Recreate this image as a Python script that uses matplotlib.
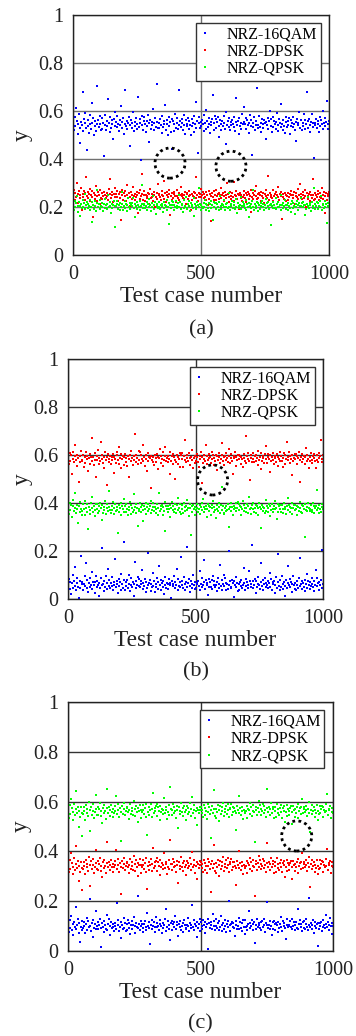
import numpy as np
import matplotlib
matplotlib.use("Agg")
import matplotlib.pyplot as plt

plt.rcParams['font.family'] = ['Liberation Serif', 'DejaVu Serif']

# values, in thousandths of y (test cases spread over 1..1000)
qam_a = """
548 521 573 536 612 559 503 544 588 530 467 555 541 679 517 566 549 592 528 437
561 538 509 583 547 526 634 552 571 498 539 557 515 546 703 563 532 578 544 519
527 569 551 412 540 585 522 558 536 649 549 511 574 530 562 545 483 567 538 596
555 533 580 546 517 561 542 620 528 553 571 506 544 688 537 559 524 550 577 453
540 563 529 549 597 515 556 538 572 525 546 660 533 566 551 395 542 581 520 557
574 545 512 560 536 584 549 471 563 527 540 555 608 519 548 570 535 713 556 531
530 552 567 541 507 578 534 559 545 626 522 563 547 501 576 539 554 513 442 565
559 516 546 589 531 552 570 524 541 687 558 535 568 549 520 583 543 506 561 537
546 572 523 557 543 498 566 537 552 579 514 545 639 531 558 426 549 573 528 554
537 561 544 518 583 548 526 603 560 534 571 547 510 555 540 566 668 521 552 580
567 528 553 575 539 491 562 544 519 557 536 581 549 527 594 461 541 558 532 569
521 556 540 564 547 532 577 515 553 656 543 560 504 572 538 549 526 586 545 618
553 545 569 526 561 542 509 550 585 537 562 415 548 533 575 520 557 543 697 529
541 579 535 551 514 568 546 529 563 549 483 556 542 571 524 559 601 537 566 512
576 532 560 546 527 554 590 540 518 565 551 534 629 547 521 561 538 507 553 574
533 558 543 571 505 539 564 552 532 576 544 522 556 475 567 541 550 594 529 562
563 519 549 537 586 561 527 545 678 530 557 568 540 514 553 587 535 548 403 543
548 566 530 559 544 513 574 536 562 547 599 526 552 570 538 556 642 524 545 560
"""
dpsk_a = """
246 271 229 258 240 302 253 217 265 249 236 279 186 255 243 268 231 257 327 244
261 238 254 275 224 249 266 241 158 259 233 252 288 245 227 263 250 213 270 239
232 257 245 263 251 196 238 260 247 228 274 255 316 236 262 249 221 256 243 281
255 242 268 226 253 239 261 144 250 270 231 258 244 265 223 292 248 236 259 205
241 264 235 252 283 246 228 256 240 262 249 174 257 233 271 245 254 338 230 251
268 227 251 246 237 260 213 253 277 239 255 243 226 264 252 199 241 258 235 296
249 255 240 230 266 252 245 308 234 257 222 248 262 241 253 269 168 246 257 231
236 262 256 244 219 245 271 237 258 229 250 283 245 255 238 248 232 264 214 253
258 233 247 267 251 188 254 229 244 262 240 257 236 325 249 226 260 243 255 274
243 251 263 238 255 241 230 262 248 210 266 235 253 247 140 257 243 229 268 249
229 270 244 254 232 259 248 279 236 251 258 226 244 263 250 237 302 255 240 220
263 246 235 257 241 304 227 250 266 244 233 255 193 248 260 239 252 227 243 266
251 238 259 222 248 262 255 233 246 269 180 241 257 234 250 265 244 289 232 256
239 257 250 264 227 245 238 258 215 253 247 272 236 248 331 230 259 251 243 237
270 224 246 253 263 236 251 242 284 229 256 245 262 152 240 254 233 260 248 225
245 259 231 240 256 249 268 227 252 237 261 211 246 257 243 273 235 250 295 241
254 234 263 248 239 271 244 198 259 232 247 256 225 264 252 238 250 316 231 257
233 250 242 266 254 228 257 243 237 278 249 234 261 245 176 258 230 253 247 262
"""
qpsk_a = """
209 188 226 198 215 244 203 181 219 206 162 212 194 231 200 217 255 190 208 222
196 213 205 229 187 201 219 137 210 193 224 204 185 216 272 199 211 228 192 206
218 202 183 211 196 234 207 190 214 248 198 221 205 176 213 195 208 227 118 203
204 225 211 193 209 186 218 201 264 212 189 206 223 197 214 182 207 239 199 216
191 208 217 203 236 196 212 157 205 220 193 210 199 226 186 204 290 213 195 209
213 196 204 221 189 211 233 198 207 184 216 202 246 193 209 221 170 205 214 197
200 219 191 207 214 203 178 222 196 209 205 231 187 200 218 129 210 196 223 207
222 187 209 198 226 194 206 215 250 202 219 191 208 214 181 229 197 206 243 192
194 211 223 205 184 216 200 209 194 236 163 212 203 190 220 207 199 278 211 186
207 200 195 217 202 229 189 213 207 197 218 184 211 225 196 208 147 219 201 215
216 193 212 201 220 186 246 203 190 214 207 198 228 186 212 202 217 195 259 200
189 214 204 226 197 208 219 193 233 201 176 215 204 195 210 240 192 206 222 211
205 197 230 188 213 201 159 218 205 211 194 224 200 269 188 214 206 197 220 183
218 208 191 215 203 224 198 211 186 207 232 195 217 203 219 190 208 125 212 204
197 222 209 194 238 190 214 202 220 199 210 186 252 209 196 215 203 230 191 208
210 188 216 205 196 213 180 225 195 218 204 171 212 199 224 207 188 216 203 239
203 215 199 222 209 167 207 193 214 205 241 197 209 218 183 221 204 196 281 211
193 206 220 190 217 204 226 199 247 188 212 208 194 225 201 213 135 206 218 199
"""

qam_b = """
58 83 41 70 19 65 102 47 76 54 133 38 67 89 52 6 73 44 181 61
71 36 62 94 55 148 46 79 28 66 51 88 59 40 112 72 57 23 69 95
49 77 60 12 68 44 86 57 211 63 35 74 52 97 41 68 125 56 80 47
66 53 90 38 71 59 167 48 75 62 26 83 54 69 39 104 61 45 78 236
37 69 55 81 46 99 64 33 58 87 50 72 14 63 156 44 76 60 91 53
82 48 73 61 120 40 67 56 85 30 70 47 193 58 65 79 35 62 51 109
54 75 29 64 52 88 43 71 139 57 81 38 66 50 74 21 60 93 46 68
63 42 85 57 68 4 76 53 61 96 45 72 59 127 37 84 55 70 49 175
74 58 47 92 39 63 70 217 51 66 84 56 31 77 62 45 98 58 72 40
45 68 61 76 54 115 36 64 88 48 59 161 71 42 79 57 65 17 83 52
70 51 80 43 97 60 74 49 58 33 69 86 46 63 141 53 78 39 61 101
56 89 37 68 62 41 199 60 75 52 44 80 67 10 73 57 92 48 65 35
39 64 72 55 81 47 58 131 66 36 85 53 71 60 45 118 76 50 63 226
77 46 59 84 27 73 50 64 93 57 42 69 152 55 79 38 62 87 48 67
60 73 44 66 107 52 82 39 69 61 75 24 58 91 47 70 186 54 36 81
52 94 63 40 71 56 11 78 45 65 137 59 83 49 72 62 31 96 57 43
65 38 77 58 46 86 54 171 63 74 41 68 50 80 34 61 103 44 75 59
43 71 55 89 63 49 76 32 60 122 53 87 66 39 70 57 81 205 47 64
"""
dpsk_b = """
589 563 607 574 598 521 583 612 569 594 642 578 556 601 587 486 596 571 615 580
575 601 548 590 566 611 583 597 533 586 604 562 593 669 577 591 558 608 581 509
597 580 619 561 588 573 655 584 600 566 547 592 611 578 590 474 605 569 584 596
562 593 578 606 527 591 582 567 613 599 579 635 563 588 545 603 585 596 557 590
604 571 589 553 595 584 509 600 574 617 586 560 594 581 688 570 598 587 564 615
581 612 566 599 584 643 577 591 556 583 602 535 609 573 592 587 462 597 580 571
593 559 600 587 570 606 592 541 588 625 568 595 583 554 611 578 597 632 574 586
570 597 584 519 613 577 595 563 604 590 581 499 572 599 564 593 582 608 550 602
608 585 552 594 580 663 569 586 598 574 610 587 560 591 579 620 544 589 597 566
577 603 591 571 548 596 584 612 482 593 567 601 585 576 641 562 595 581 606 589
590 566 613 583 600 558 587 577 599 537 594 580 608 591 568 582 602 652 575 593
559 595 578 609 586 571 627 594 565 588 603 574 520 597 586 611 553 590 579 600
601 582 596 564 592 584 548 605 589 576 680 567 594 583 610 575 496 598 587 572
585 610 569 594 577 602 588 560 618 581 591 542 607 573 596 586 565 603 582 639
568 590 604 582 531 598 574 592 580 609 563 596 587 571 603 553 593 585 612 577
596 577 588 549 607 564 601 583 655 590 578 612 566 594 585 516 599 574 589 606
583 604 562 597 589 612 579 487 593 572 605 584 597 561 590 628 576 600 583 545
573 592 610 578 566 595 586 603 574 546 598 581 569 607 588 595 661 583 571 599
"""
qpsk_b = """
382 356 401 369 391 343 386 412 365 378 440 359 393 374 318 388 362 405 376 351
367 394 376 349 410 381 363 397 290 385 371 356 399 379 426 364 389 372 346 396
395 373 358 387 366 402 379 331 392 360 384 371 409 353 378 396 367 451 384 370
358 389 371 403 378 353 394 367 385 372 275 390 361 381 399 348 387 374 362 415
388 364 396 375 349 383 369 405 356 392 379 362 438 371 385 357 397 378 305 366
374 401 362 383 392 369 323 388 376 399 354 383 367 394 375 389 359 408 371 385
401 368 385 359 374 397 380 352 443 365 389 376 393 348 382 368 404 284 389 377
363 387 373 391 340 378 406 371 386 361 395 375 357 390 370 421 381 364 397 355
391 376 358 399 383 366 388 412 369 380 347 396 378 266 387 363 392 376 351 384
369 395 381 364 376 390 355 385 398 372 416 361 385 374 389 343 377 396 365 388
384 352 393 378 408 361 383 372 337 391 377 367 402 383 358 393 465 372 387 360
356 380 367 386 371 395 376 301 383 367 399 385 350 389 374 380 366 398 379 404
397 371 389 352 384 377 410 365 391 380 361 378 395 358 386 427 373 381 353 390
373 398 364 381 393 359 386 378 352 399 383 297 376 392 366 384 379 357 412 367
386 362 379 394 347 389 370 396 375 363 387 374 410 379 332 397 361 386 374 393
361 391 375 357 399 373 383 355 388 422 371 392 363 384 378 398 354 378 391 369
393 377 348 387 382 366 404 380 364 391 358 386 375 260 395 370 385 367 400 381
377 365 392 372 361 398 357 389 379 386 370 453 381 360 393 377 364 397 385 373
"""

qam_c = """
103 78 124 92 141 85 110 63 117 98 177 89 106 128 74 112 35 96 121 86
91 116 99 72 108 134 84 119 95 207 102 81 113 58 125 94 107 88 162 101
118 87 105 129 93 16 111 97 76 122 104 90 146 83 109 127 99 66 115 92
96 109 82 113 101 88 192 106 123 79 98 117 52 103 87 131 94 112 80 108
85 125 111 94 67 103 119 89 106 135 73 101 114 96 221 91 108 84 120 100
110 93 76 107 120 96 83 154 100 115 91 27 106 124 87 102 117 78 98 137
97 114 102 86 126 110 99 71 113 94 105 128 81 170 97 119 90 104 43 111
122 84 107 118 95 139 88 103 117 61 109 96 121 85 102 114 77 125 105 93
88 105 131 100 79 113 106 92 184 98 123 86 110 101 56 116 94 107 82 128
115 99 89 123 104 73 117 95 108 127 8 112 93 105 118 88 150 100 119 84
101 128 94 111 86 120 97 142 82 106 113 90 126 99 76 109 121 95 202 103
81 109 118 97 114 92 60 105 120 89 101 133 87 116 94 111 80 123 98 68
126 95 102 83 108 159 112 91 99 124 85 107 117 31 104 90 128 96 113 106
94 117 85 120 98 106 130 78 111 103 196 93 105 88 122 99 64 115 87 119
107 86 113 104 75 118 93 109 137 96 82 121 100 112 91 49 106 127 95 103
99 122 96 89 129 101 115 84 105 118 94 168 88 109 123 97 110 81 117 92
119 90 108 127 95 83 104 213 98 112 87 106 125 74 101 116 92 107 19 114
87 111 100 115 82 125 97 106 91 145 109 95 118 86 104 131 99 113 70 102
"""
dpsk_c = """
344 316 367 331 392 355 309 338 372 326 421 349 334 361 283 342 319 358 335 246
331 357 342 308 366 337 351 323 379 346 263 360 328 345 371 315 338 407 352 329
360 327 349 374 321 343 296 356 334 367 341 312 353 437 336 358 324 347 365 339
318 350 336 362 344 406 329 370 347 317 355 338 228 361 332 349 373 326 343 357
353 339 312 347 369 331 356 341 325 381 350 322 364 337 301 355 344 369 313 346
337 365 345 329 353 318 372 248 340 358 327 346 369 320 351 414 334 356 341 363
372 322 358 343 306 364 339 352 330 345 394 335 357 348 311 339 367 328 445 350
325 348 371 336 357 342 316 363 347 274 359 330 343 376 337 353 321 362 339 307
346 361 332 354 340 375 324 351 397 336 345 366 315 342 356 289 348 333 360 347
359 333 348 319 366 327 354 342 312 369 340 357 329 348 237 363 335 351 426 322
314 352 337 366 347 303 361 330 357 343 376 321 350 339 364 332 372 345 318 356
349 370 327 358 338 356 343 265 335 362 347 333 402 355 326 343 358 310 347 337
335 343 361 313 352 345 330 374 358 322 341 367 339 219 360 348 327 355 338 383
366 328 350 341 371 334 361 346 319 353 432 338 357 325 349 373 336 351 360 315
341 359 317 372 333 349 325 355 367 339 316 355 344 362 298 337 365 322 352 344
327 355 363 338 289 361 346 320 349 336 358 313 371 341 354 329 359 392 335 350
357 338 345 364 323 352 378 336 257 348 367 330 342 358 319 346 334 365 341 308
330 364 334 349 361 318 357 345 339 370 343 411 326 352 347 363 315 340 356 336
"""
qpsk_c = """
563 536 587 551 609 574 528 557 592 545 641 569 553 580 499 561 538 577 555 462
551 578 562 527 586 556 571 543 598 566 481 580 547 564 591 534 558 627 572 548
580 547 569 593 541 563 515 576 553 586 561 532 573 652 556 578 544 567 585 559
538 570 556 582 564 624 549 590 567 537 575 558 441 581 552 569 593 546 563 577
573 559 532 567 589 551 576 561 545 601 570 542 584 557 518 575 564 588 533 566
557 585 565 549 573 538 592 466 560 578 547 566 589 540 571 634 554 576 561 583
592 542 578 563 526 584 559 572 550 565 614 555 577 568 531 559 587 548 659 570
545 568 591 556 577 562 536 583 567 493 579 550 563 596 557 573 541 582 559 527
566 581 552 574 560 595 544 571 617 556 565 586 535 562 576 508 568 553 580 567
579 553 568 539 586 547 574 562 532 589 560 577 549 568 455 583 555 571 646 542
534 572 557 586 567 523 581 550 577 563 596 541 570 559 584 552 592 565 538 576
569 590 547 578 558 576 563 484 555 582 567 553 622 575 546 563 578 530 567 557
555 563 581 533 572 565 550 594 578 542 561 587 559 437 580 568 547 575 558 603
586 548 570 561 591 554 581 566 539 573 650 558 577 545 569 593 556 571 580 535
561 579 537 592 553 569 545 575 587 559 536 575 564 582 517 557 585 542 572 564
547 575 583 558 509 581 566 540 569 556 578 533 591 561 574 549 579 612 555 570
577 558 565 584 543 572 598 556 476 568 587 550 562 578 539 566 554 585 561 528
550 584 554 569 581 538 577 565 559 590 563 631 546 572 567 583 535 560 576 556
"""

labels = ['NRZ-16QAM', 'NRZ-DPSK', 'NRZ-QPSK']
colors = ['#0000ff', '#ff0000', '#00ff00']
panels = [[qam_a, dpsk_a, qpsk_a], [qam_b, dpsk_b, qpsk_b], [qam_c, dpsk_c, qpsk_c]]
captions = ['(a)', '(b)', '(c)']
# dotted circles marking the odd points
circles = [[(379, 0.383), (617, 0.37)], [(567, 0.496)], [(863, 0.462)]]

# axes boxes in figure pixels: left, top, right, bottom
boxes = [(73, 15, 329, 255), (68, 359, 323, 599), (68, 702, 333, 951)]
caption_y = [330, 672, 1024]
ylabel_x = [33, 33, 32]
grid_col = ['#707070', '#333333', '#333333']

W, H = 356, 1036
fig = plt.figure(figsize=(W / 100, H / 100), dpi=100)

for k in range(3):
    l, t, r, b = boxes[k]
    ax = fig.add_axes([l / W, 1 - b / H, (r - l) / W, (b - t) / H])
    for s, lab, c in zip(panels[k], labels, colors):
        y = np.array(s.split(), dtype=float) / 1000
        x = np.linspace(1, 1000, len(y))
        ax.plot(x, y, 's', ms=2.1, mew=0, color=c, label=lab)
    for cx, cy in circles[k]:
        ax.scatter([cx], [cy], s=470, facecolors='none', edgecolors='k',
                   linewidths=2.0, linestyles=(0, (1, 1.2)), zorder=5)
    ax.set_xlim(0, 1000)
    ax.set_ylim(0, 1)
    ax.set_xticks([0, 500, 1000])
    ax.set_yticks([0, 0.2, 0.4, 0.6, 0.8, 1])
    ax.set_yticklabels(['0', '0.2', '0.4', '0.6', '0.8', '1'])
    ax.tick_params(length=0, labelsize=14.5, pad=7, colors='#222222')
    ax.grid(True, color=grid_col[k], lw=1.0)
    ax.set_axisbelow(True)
    for sp in ax.spines.values():
        sp.set_color('#222222')
        sp.set_linewidth(1.0)
    ax.set_xlabel('Test case number', fontsize=16.8, labelpad=2, color='#222222')
    ax.set_ylabel('y', fontsize=16.8, color='#222222')
    ax.yaxis.set_label_coords((ylabel_x[k] - l) / (r - l), 0.5)
    leg = ax.legend(loc='upper right', bbox_to_anchor=(0.967, 0.967), borderaxespad=0,
                    fontsize=11.5, fancybox=False, framealpha=1, edgecolor='#333333',
                    markerscale=1.0, handlelength=0.7, handletextpad=1.0,
                    labelspacing=0.08, borderpad=0.22)
    leg.get_frame().set_linewidth(1.0)
    fig.text((l + r) / 2 / W, 1 - caption_y[k] / H, captions[k], ha='center', va='center',
             fontsize=16, color='#222222')

fig.savefig('out.png', dpi=100)
